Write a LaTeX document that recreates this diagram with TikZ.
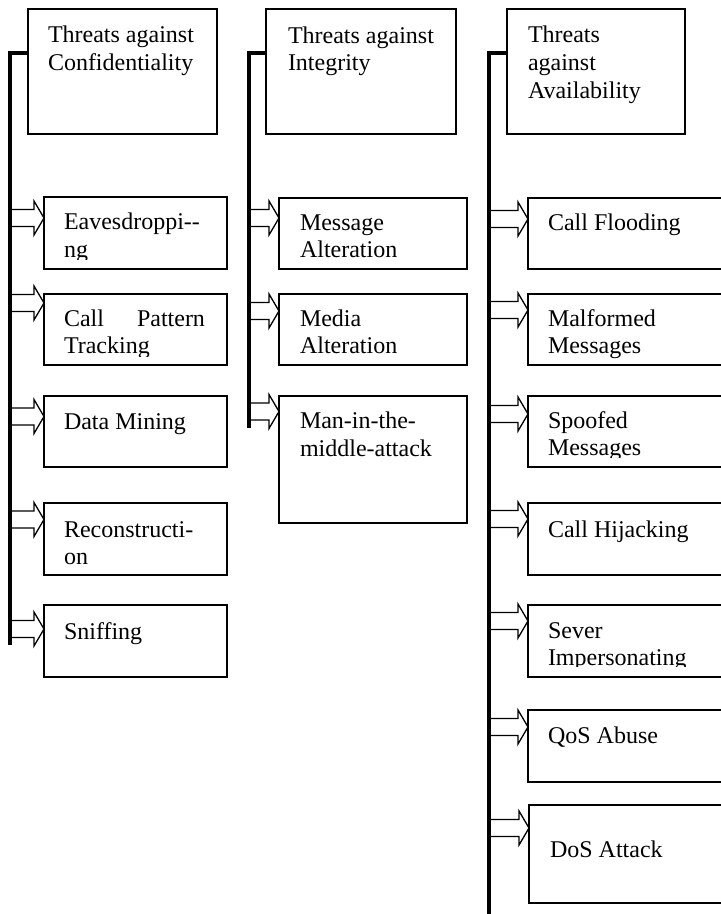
\documentclass[tikz,border=0pt]{standalone}
\usepackage{fontspec}
\setmainfont{Liberation Serif}
\usetikzlibrary{calc}
\tikzset{
  box/.style={draw, line width=1.2pt, inner sep=0pt, outer sep=0pt, anchor=north west},
  txt/.style={anchor=base west, inner sep=0pt, outer sep=0pt, font=\fontsize{24}{28}\selectfont},
  spine/.style={draw, line width=3.5pt, line join=miter},
  arrw/.style={draw, line width=1.3pt, fill=white, line join=miter}
}
\newcommand\bx[5]{\node[box, minimum width={(#4-#2)*1pt}, minimum height={(#5-#3)*1pt}] (#1) at (#2,#3) {};}
\newcommand\barr[2]{\draw[arrw] let \p1=(#1), \p2=(#2.west|-#1) in
  (\x1,\y1+8.5pt) -- (\x2-10pt,\y1+8.5pt) -- (\x2-10pt,\y1+17pt) -- (\x2,\y1)
  -- (\x2-10pt,\y1-17pt) -- (\x2-10pt,\y1-8.5pt) -- (\x1,\y1-8.5pt);}
\begin{document}
\begin{tikzpicture}[x=1pt,y=-1pt]
\useasboundingbox (0,0) rectangle (721,914);
\clip (0,0) rectangle (721,914);
\fill[white] (0,0) rectangle (721,914);

% ---------- column 1 ----------
\bx{t1}{28}{9}{217}{134}
\node[txt] (t1a) at (48,42) {Threats against};
\node[txt] (t1b) at (48,70) {Confidentiality};

\bx{eav}{44}{197}{227}{269}
\bx{cpt}{44}{294}{227}{365}
\bx{dmn}{44}{396}{227}{467}
\bx{rec}{44}{503}{227}{575}
\bx{snf}{44}{605}{227}{677}

\node[txt] (eav1) at (64,229) {Eavesdroppi-{}-};
\begin{scope}
  \clip (44,197) rectangle (227,259);
  \node[txt] (eav2) at (64,257) {ng};
\end{scope}
\node[txt] (cpt1) at (64,326) {\makebox[141pt][s]{Call Pattern}};
\begin{scope}
  \clip (44,294) rectangle (227,356);
  \node[txt] (cpt2) at (64,353) {Tracking};
\end{scope}
\node[txt] (dmn1) at (64,429) {Data Mining};
\node[txt] (rec1) at (64,537) {Reconstructi-};
\node[txt] (rec2) at (64,564) {on};
\node[txt] (snf1) at (64,639) {Sniffing};

\coordinate (s1top) at (10,53);
\coordinate (s1bot) at (10,645);
\coordinate (a11) at (10,218);
\coordinate (a12) at (10,303);
\coordinate (a13) at (10,416.5);
\coordinate (a14) at (10,519.5);
\coordinate (a15) at (10,629);
\barr{a11}{eav}
\barr{a12}{cpt}
\barr{a13}{dmn}
\barr{a14}{rec}
\barr{a15}{snf}
\draw[spine] (t1.west|-s1top) -- (s1top) -- (s1bot);

% ---------- column 2 ----------
\bx{t2}{266}{9}{456}{134}
\node[txt] (t2a) at (288,43) {Threats against};
\node[txt] (t2b) at (288,70) {Integrity};

\bx{msg}{279}{198}{467}{269}
\bx{med}{279}{294}{467}{365}
\bx{man}{279}{396}{467}{523}

\node[txt] (msg1) at (300,230) {Message};
\node[txt] (msg2) at (300,257) {Alteration};
\node[txt] (med1) at (300,326) {Media};
\node[txt] (med2) at (300,353) {Alteration};
\node[txt] (man1) at (300,428) {Man-in-the-};
\node[txt] (man2) at (300,456) {middle-attack};

\coordinate (s2top) at (249,53);
\coordinate (s2bot) at (249,428);
\coordinate (a21) at (249,218);
\coordinate (a22) at (249,311);
\coordinate (a23) at (249,411.5);
\barr{a21}{msg}
\barr{a22}{med}
\barr{a23}{man}
\draw[spine] (t2.west|-s2top) -- (s2top) -- (s2bot);

% ---------- column 3 ----------
\bx{t3}{507}{9}{685}{134}
\node[txt] (t3a) at (528,42) {Threats};
\node[txt] (t3b) at (528,70) {against};
\node[txt] (t3c) at (528,98) {Availability};

\bx{cfl}{528}{198}{740}{269}
\bx{mal}{528}{294}{740}{365}
\bx{spf}{528}{396}{740}{467}
\bx{hij}{528}{503}{740}{575}
\bx{sev}{528}{605}{740}{677}
\bx{qos}{528}{710}{740}{782}
\bx{dos}{529}{805}{740}{903}

\node[txt] (cfl1) at (548,230) {Call Flooding};
\node[txt] (mal1) at (548,326) {Malformed};
\node[txt] (mal2) at (548,353) {Messages};
\node[txt] (spf1) at (548,428) {Spoofed};
\begin{scope}
  \clip (528,396) rectangle (740,457);
  \node[txt] (spf2) at (548,455) {Messages};
\end{scope}
\node[txt] (hij1) at (548,537) {Call Hijacking};
\node[txt] (sev1) at (548,638) {Sever};
\begin{scope}
  \clip (528,605) rectangle (740,666);
  \node[txt] (sev2) at (548,665) {Impersonating};
\end{scope}
\node[txt] (qos1) at (548,743) {QoS Abuse};
\node[txt] (dos1) at (550,857) {DoS Attack};

\coordinate (s3top) at (489,53);
\coordinate (s3bot) at (489,920);
\coordinate (a31) at (489,219);
\coordinate (a32) at (489,310);
\coordinate (a33) at (489,414);
\coordinate (a34) at (489,519);
\coordinate (a35) at (489,621);
\coordinate (a36) at (489,727);
\coordinate (a37) at (489,828);
\barr{a31}{cfl}
\barr{a32}{mal}
\barr{a33}{spf}
\barr{a34}{hij}
\barr{a35}{sev}
\barr{a36}{qos}
\barr{a37}{dos}
\draw[spine] (t3.west|-s3top) -- (s3top) -- (s3bot);
\end{tikzpicture}
\end{document}
